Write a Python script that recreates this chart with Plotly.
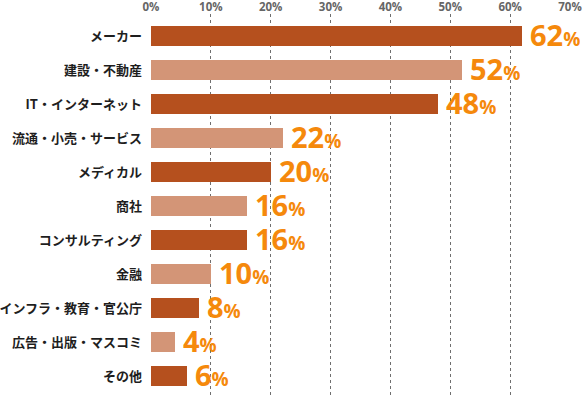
import plotly.graph_objects as go

categories = ["メーカー", "建設・不動産", "IT・インターネット", "流通・小売・サービス", "メディカル",
              "商社", "コンサルティング", "金融", "インフラ・教育・官公庁", "広告・出版・マスコミ", "その他"]
values = [62, 52, 48, 22, 20, 16, 16, 10, 8, 4, 6]
tick_vals = [0, 10, 20, 30, 40, 50, 60, 70]
tick_text = ["0%", "10%", "20%", "30%", "40%", "50%", "60%", "70%"]

DARK = "#B5501E"
LIGHT = "#D39577"
ORANGE = "#F5890C"
colors = [DARK if i % 2 == 0 else LIGHT for i in range(len(categories))]

fig = go.Figure()
fig.add_trace(go.Bar(
    x=values, y=list(range(len(categories))), orientation="h",
    marker=dict(color=colors, line=dict(width=0)),
    width=0.59, hoverinfo="skip",
))

for i, v in enumerate(values):
    fig.add_annotation(
        x=v, y=i, xref="x", yref="y",
        text=f"{v}<span style='font-size:19px'>%</span>",
        showarrow=False, xanchor="left", yanchor="middle",
        xshift=6, yshift=2, height=30,
        font=dict(family="Open Sans", size=29, color=ORANGE, weight="bold"),
    )

fig.update_layout(
    width=586, height=396,
    margin=dict(l=151, r=16, t=14, b=0, autoexpand=False),
    paper_bgcolor="white", plot_bgcolor="white",
    showlegend=False,
    bargap=0,
)
fig.update_xaxes(
    range=[0, 70], side="top", tickvals=tick_vals, ticktext=tick_text,
    showgrid=True, gridcolor="#6f6f6f", gridwidth=1, griddash="dot",
    zeroline=False, showline=False, ticks="", automargin=False,
    tickfont=dict(family="Open Sans", size=11.5, color="#666666", weight="bold"),
    ticklabelstandoff=0,
)
fig.update_yaxes(
    range=[10.59, -0.65], tickvals=list(range(len(categories))), ticktext=categories,
    showgrid=False, zeroline=False, showline=False, ticks="", automargin=False,
    tickfont=dict(family="Noto Sans CJK JP", size=13, color="#1e1e1e", weight="bold"),
    ticklabelstandoff=8,
)

fig.write_html("out.html", config={"displayModeBar": False, "staticPlot": True},
               post_script="document.body.style.margin='0';")
